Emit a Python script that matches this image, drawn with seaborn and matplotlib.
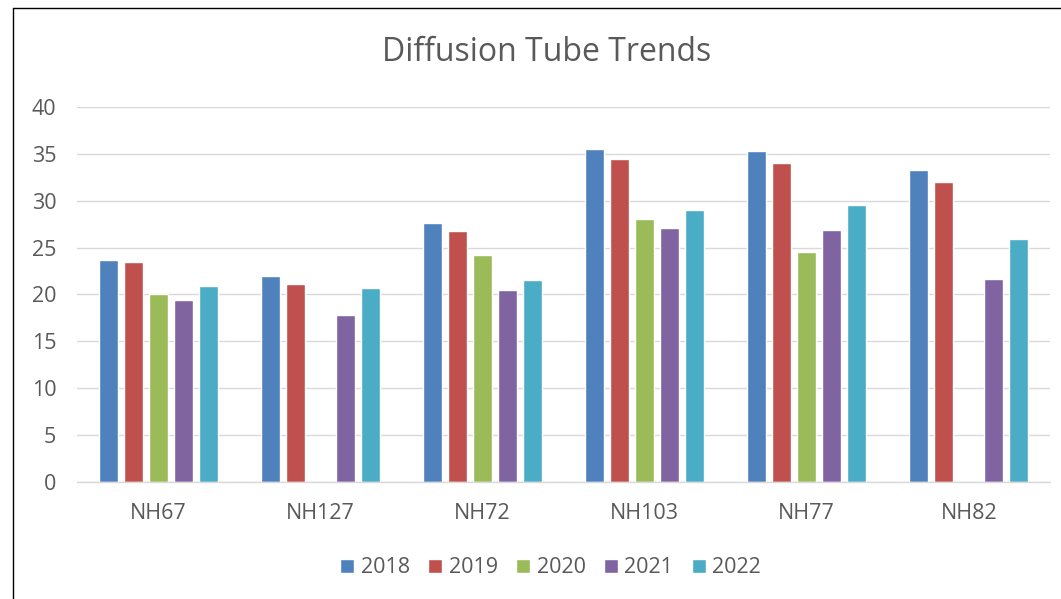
import numpy as np
import pandas as pd
import matplotlib
matplotlib.use("Agg")
import matplotlib.pyplot as plt
import seaborn as sns
from matplotlib.lines import Line2D

sites = ["NH67", "NH127", "NH72", "NH103", "NH77", "NH82"]
years = ["2018", "2019", "2020", "2021", "2022"]
v2018 = [23.7, 22.0, 27.6, 35.5, 35.3, 33.3]
v2019 = [23.5, 21.1, 26.8, 34.4, 34.0, 32.0]
v2020 = [20.0, np.nan, 24.2, 28.0, 24.5, np.nan]
v2021 = [19.4, 17.8, 20.5, 27.1, 26.9, 21.7]
v2022 = [20.9, 20.7, 21.5, 29.0, 29.5, 25.9]
colors = ["#4F81BD", "#C0504D", "#9BBB59", "#8064A2", "#4BACC6"]
yticks = [0, 5, 10, 15, 20, 25, 30, 35, 40]

series = [v2018, v2019, v2020, v2021, v2022]
df = pd.DataFrame({
    "site": sites * len(years),
    "year": [y for y in years for _ in sites],
    "value": [v for s in series for v in s],
})

sns.set_theme(style="white")
font = "Open Sans"
plt.rcParams["font.family"] = [font, "DejaVu Sans"]
tc = "#595959"
fs = 15.5

fig = plt.figure(figsize=(10.61, 5.99), dpi=100)
ax = fig.add_axes([0.0726, 0.1953, 0.9896 - 0.0726, 0.8214 - 0.1953])

sns.barplot(data=df, x="site", y="value", hue="year", order=sites, hue_order=years,
            palette=colors, width=0.77, gap=0.24, saturation=1, errorbar=None,
            ax=ax, legend=True)

ax.set_ylim(0, 40)
ax.set_yticks(yticks)
ax.set_xlim(-0.5, len(sites) - 0.5)
ax.grid(axis="y", color="#D9D9D9", linewidth=1.0)
ax.set_axisbelow(True)
for s in ["top", "right", "left"]:
    ax.spines[s].set_visible(False)
ax.spines["bottom"].set_color("#D9D9D9")
ax.spines["bottom"].set_linewidth(1.0)
ax.set_xlabel("")
ax.set_ylabel("")
ax.tick_params(axis="y", length=0, pad=15, labelsize=fs, labelcolor=tc)
ax.tick_params(axis="x", length=0, pad=15, labelsize=fs, labelcolor=tc)

leg = ax.get_legend()
handles = leg.legend_handles
leg.remove()
fig.legend(handles, years, loc="center", bbox_to_anchor=(0.519, 0.052), ncol=5,
           frameon=False, fontsize=fs, labelcolor=tc, handlelength=0.65,
           handleheight=0.65, handletextpad=0.3, columnspacing=0.85)

fig.text(0.515, 0.913, "Diffusion Tube Trends", ha="center", va="center",
         fontsize=23, color=tc)

fig.add_artist(Line2D([12.5 / 1061, 12.5 / 1061], [0, 1 - 8 / 599], color="black", linewidth=1.0))
fig.add_artist(Line2D([12.5 / 1061, 1], [1 - 8 / 599, 1 - 8 / 599], color="black", linewidth=1.0))

fig.savefig("out.png", dpi=100, facecolor="white")
